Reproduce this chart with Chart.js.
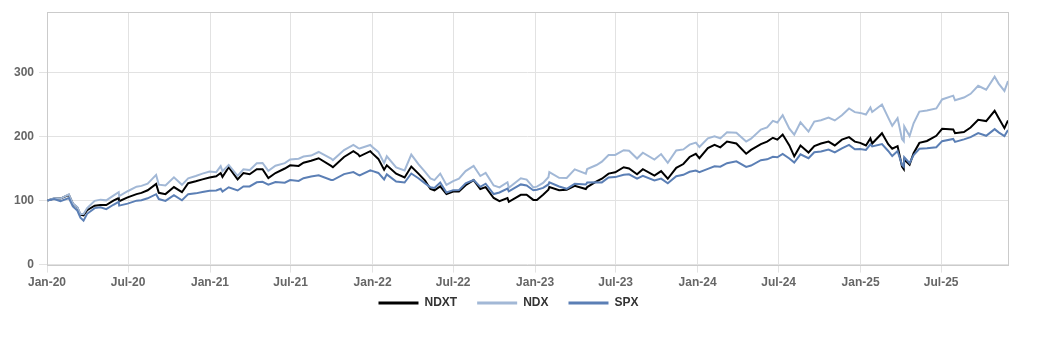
<!DOCTYPE html>
<html><head><meta charset="utf-8">
<script src="https://cdn.jsdelivr.net/npm/chart.js@4.4.0/dist/chart.umd.min.js"></script>
<style>html,body{margin:0;padding:0;background:#fff}#wrap{width:1050px;height:350px;position:relative}</style>
</head><body><div id="wrap"><canvas id="c"></canvas></div>
<script>
const dates = [
'2020-01-02','2020-01-17','2020-01-31','2020-02-19','2020-02-28','2020-03-09','2020-03-16','2020-03-23','2020-03-31','2020-04-17','2020-04-30','2020-05-13','2020-05-29','2020-06-10','2020-06-11','2020-06-30','2020-07-20','2020-07-31','2020-08-14','2020-09-02','2020-09-08','2020-09-23','2020-10-12','2020-10-30','2020-11-13','2020-11-30','2020-12-15','2020-12-31',
'2021-01-15','2021-01-25','2021-01-29','2021-02-12','2021-03-04','2021-03-17','2021-03-31','2021-04-16','2021-04-29','2021-05-12','2021-05-28','2021-06-18','2021-06-30','2021-07-19','2021-07-30','2021-08-16','2021-09-02','2021-09-30','2021-10-04','2021-10-29','2021-11-19','2021-11-30','2021-12-03','2021-12-27','2021-12-31',
'2022-01-14','2022-01-27','2022-02-02','2022-02-23','2022-03-14','2022-03-29','2022-04-14','2022-04-29','2022-05-11','2022-05-20','2022-06-02','2022-06-16','2022-07-01','2022-07-14','2022-07-29','2022-08-16','2022-08-31','2022-09-12','2022-09-30','2022-10-13','2022-10-31','2022-11-03','2022-11-30','2022-12-13','2022-12-28',
'2023-01-05','2023-01-19','2023-01-31','2023-02-02','2023-02-24','2023-03-13','2023-03-31','2023-04-25','2023-04-28','2023-05-19','2023-05-31','2023-06-15','2023-06-30','2023-07-19','2023-07-31','2023-08-18','2023-08-31','2023-09-26','2023-10-11','2023-10-26','2023-11-14','2023-11-30','2023-12-14','2023-12-28',
'2024-01-05','2024-01-24','2024-02-08','2024-02-21','2024-03-07','2024-03-28','2024-04-19','2024-04-30','2024-05-22','2024-06-05','2024-06-18','2024-06-28','2024-07-10','2024-07-25','2024-08-05','2024-08-19','2024-09-06','2024-09-19','2024-10-04','2024-10-21','2024-11-04','2024-11-20','2024-12-06','2024-12-19','2024-12-31',
'2025-01-13','2025-01-23','2025-01-27','2025-02-18','2025-03-04','2025-03-13','2025-03-25','2025-04-04','2025-04-08','2025-04-09','2025-04-21','2025-04-30','2025-05-13','2025-05-30','2025-06-20','2025-07-03','2025-07-28','2025-08-01','2025-08-21','2025-09-05','2025-09-22','2025-10-10','2025-10-29','2025-11-07','2025-11-20','2025-11-28'
];
const ndxt = [
100,103,103,109,95,89,78,77,85,92,93,93,100,104,99,105,110,112,116,126,112,110,121,113,127,130,133,136,
138,143,137,152,133,143,141,149,149,135,143,150,155,154,159,162,166,154,152,168,177,172,169,177,174,
165,148,155,142,136,153,142,131,118,116,122,110,114,114,124,132,118,121,104,99,104,98,109,109,101,
101,109,117,121,116,117,123,118,121,130,134,142,144,152,150,141,149,139,146,134,151,157,168,173,
166,182,187,183,192,189,173,179,188,192,198,195,203,186,169,186,175,185,189,192,186,195,199,192,190,
186,197,189,205,188,181,185,153,149,164,156,174,190,193,201,212,211,205,207,214,226,224,240,229,213,225
];
const ndx = [
100,103.4,103.1,109.5,95.4,89.6,79.1,79,88.1,99.5,101.4,100.3,107.7,112.9,107,114.5,121.7,122.9,126.2,140,124.8,123.4,136.3,124.5,134.6,138.3,142,145.3,
144.3,153.6,145.7,155.5,138.6,148.8,147.5,158.3,158.7,146.5,154.3,158.4,164,165.3,168.6,170.2,175.8,165.6,163.1,178.7,186.8,181.9,181.2,186.8,183.9,
176,158.4,169.1,151.8,147.1,171.8,156.7,144.8,134.6,131.9,142,124.3,130.3,134.1,146,154.1,138.3,143.1,123.6,120.5,128.5,119.8,134.7,132.7,120.4,
121.7,127.4,136.4,144.3,135.4,135.3,148.6,142,149.3,155.5,160.6,171.2,171.1,178.5,177.6,165.6,174.7,163.9,172.5,159,178.2,179.8,187.3,190.5,
183.7,197.2,200.4,197,206.7,205.7,192.1,196.6,210.8,214.2,224.3,221.8,233.1,212.2,202.8,222,207.6,223.2,225.4,229.5,225,233,243.7,238,236.8,
234.3,245.3,238.2,249.9,229.4,216.7,228.7,196.1,192.6,215.7,200.7,220.6,238.8,240.5,243.8,257.8,263.7,256.5,260.8,266.6,279.1,273,293.2,282.5,271.1,286.6
];
const spx = [
100,102.2,99,103.9,90.7,84.3,73.2,68.7,79.3,88.2,89.4,86.6,93.4,97.9,92.1,95.2,99.8,100.4,103.5,109.9,102.3,99.4,108.5,100.4,110,111.2,113.4,115.3,
115.7,118.3,114,120.7,115.7,122,122,128.5,129.3,124.7,129,127.9,131.9,130.7,134.9,137.5,139.3,132.2,132,141.3,144.4,140.2,139.3,147,146.3,
143.1,132.8,140.9,129.7,128.1,142.2,134.8,126.8,120.8,119.7,128.2,112.6,116.2,116.3,126.8,132.1,121.4,126.2,110.1,112.6,118.8,114.2,125.2,123.4,116.1,
116.9,119.7,125.1,128.3,121.9,118.3,126.1,125,128,128.6,128.3,135.9,136.6,140.1,140.9,134.1,138.4,131.2,134.3,127,138,140.2,144.9,146.8,
144.2,149.4,153.4,152.9,158.3,161.3,152.5,154.6,162.9,164.3,168.4,167.6,172.9,165.7,159.2,172.1,166,175.4,176.5,179.7,175.3,181.6,186.9,180.1,180.5,
179.1,187.8,184.5,188.1,177.4,169.5,177.3,155.7,152.9,167.5,158.3,170.9,180.7,181.5,183.2,192.7,196.1,191.5,195.5,199,205.4,201.1,211.5,206.5,200.7,210.2
];
const tickDates = ['2020-01-01','2020-07-01','2021-01-01','2021-07-01','2022-01-01','2022-07-01','2023-01-01','2023-07-01','2024-01-01','2024-07-01','2025-01-01','2025-07-01'];
const tickLabels = ['Jan-20','Jul-20','Jan-21','Jul-21','Jan-22','Jul-22','Jan-23','Jul-23','Jan-24','Jul-24','Jan-25','Jul-25'];
const yTicks = [0,100,200,300];
const seriesNames = ['NDXT','NDX','SPX'];
const seriesColors = ['#000000','#a2b8d6','#5b7fb5'];

const DAY = 86400000, T0 = Date.UTC(2020,0,1);
const dayOf = s => { const p = s.split('-').map(Number); return (Date.UTC(p[0],p[1]-1,p[2]) - T0) / DAY; };
const pts = arr => arr.map((v,i) => ({x: dayOf(dates[i]), y: v}));
const seriesData = [ndxt, ndx, spx];

const frame = {
  id: 'frame',
  afterLayout(chart) {
    const lg = chart.legend;
    if (lg) { lg.top -= 16; lg.bottom -= 16; }
  },
  beforeDatasetsDraw(chart) {
    const a = chart.chartArea, ctx = chart.ctx;
    ctx.save();
    ctx.strokeStyle = '#cbcbcb';
    ctx.lineWidth = 1;
    ctx.strokeRect(Math.round(a.left) + 0.5, Math.round(a.top) + 0.5, Math.round(a.right) - Math.round(a.left), Math.round(a.bottom) - Math.round(a.top));
    ctx.restore();
  }
};

Chart.defaults.font.family = '"Liberation Sans", Arial, sans-serif';
Chart.defaults.font.weight = 'bold';
Chart.defaults.font.size = 12;

new Chart(document.getElementById('c'), {
  type: 'line',
  data: {
    datasets: seriesData.map((arr, i) => ({
      label: seriesNames[i],
      data: pts(arr),
      borderColor: seriesColors[i],
      backgroundColor: seriesColors[i],
      borderWidth: 2,
      pointRadius: 0,
      tension: 0,
      fill: false,
      order: 3 - i
    }))
  },
  options: {
    animation: false,
    responsive: true,
    maintainAspectRatio: false,
    layout: { padding: { left: 9, right: 42, top: 12, bottom: 15 } },
    plugins: {
      tooltip: { enabled: false },
      legend: {
        position: 'bottom',
        labels: {
          boxWidth: 40,
          boxHeight: 3,
          padding: 20,
          color: '#333',
          font: { size: 12, weight: 'bold' },
          generateLabels: (chart) => chart.data.datasets.map((ds, i) => ({
            text: ds.label, fillStyle: ds.borderColor, strokeStyle: ds.borderColor,
            lineWidth: 0, hidden: false, datasetIndex: i, fontColor: '#333'
          }))
        }
      }
    },
    scales: {
      x: {
        type: 'linear',
        min: 0,
        max: dayOf(dates[dates.length - 1]),
        afterBuildTicks: s => { s.ticks = tickDates.map(d => ({ value: dayOf(d) })); },
        grid: { color: '#e2e2e2', tickLength: 8 },
        border: { display: false },
        ticks: {
          autoSkip: false, maxRotation: 0, padding: 3, color: '#666',
          callback: (v, i) => tickLabels[i]
        }
      },
      y: {
        min: 0,
        max: 394,
        afterBuildTicks: s => { s.ticks = yTicks.map(v => ({ value: v })); },
        grid: { color: '#e2e2e2', tickLength: 8 },
        border: { display: false },
        ticks: { color: '#666', padding: 5 }
      }
    }
  },
  plugins: [frame]
});
</script>
</body></html>
